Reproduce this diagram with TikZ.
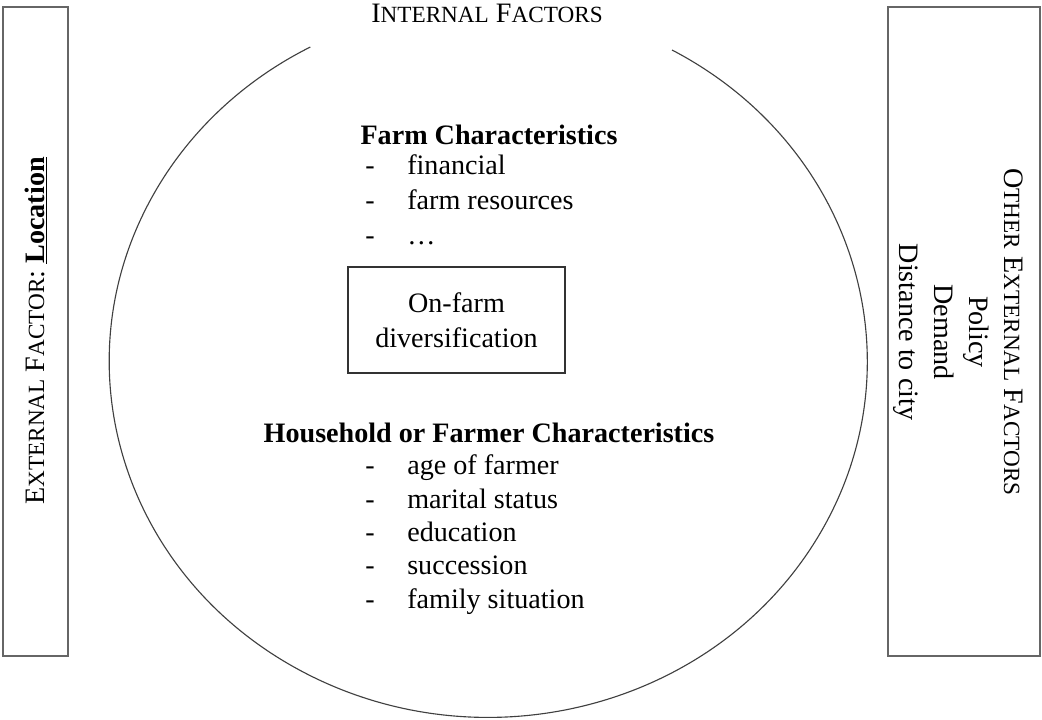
\documentclass[tikz,border=0pt]{standalone}
\usepackage{fontspec}
\setmainfont{Liberation Serif}

\newcommand{\lowcap}[1]{{\fontsize{16.5}{20}\selectfont #1}}

\tikzset{
    sidebox/.style={draw=black!60, line width=1.4pt},
    txt/.style={inner sep=0pt, font=\fontsize{20}{24.8}\selectfont},
    head/.style={txt, font=\fontsize{20}{24.8}\selectfont\bfseries},
    dashmark/.style={txt, anchor=base},
    listitem/.style={txt, anchor=base west},
}

\begin{document}
\begin{tikzpicture}[x=0.025cm, y=-0.025cm]
    \useasboundingbox (0,0) rectangle (1042,720);
    %
    \draw[sidebox] (3,7) rectangle (68,656);
    \node[txt, rotate=90] (location) at (36,331) {E\lowcap{XTERNAL} F\lowcap{ACTOR}: \textbf{\underline{Location}}};
    %
    \draw[sidebox] (888,7) rectangle (1040,656);
    \node[txt, rotate=-90, align=center] (others) at (958,332) {O\lowcap{THER} E\lowcap{XTERNAL} F\lowcap{ACTORS}\\Policy\\Demand\\Distance to city};
    %
    \node[txt, anchor=base] (internal) at (487,23) {I\lowcap{NTERNAL} F\lowcap{ACTORS}};
    \draw[black!75, line width=0.8pt] (672,50) arc[start angle=-61, end angle=242, x radius=379, y radius=356];
    %
    \node[head, anchor=base] (farmhead) at (489,145) {Farm Characteristics};
    \foreach \entry [count=\k] in {financial, farm resources, \dots} {
        \node[dashmark] (farmdash\k) at (370,140+35*\k) {-};
        \node[listitem] (farm\k) at (407,140+35*\k) {\entry};
    }
    %
    \node[txt, draw=black!80, line width=0.8pt, align=center, minimum width=5.425cm, minimum height=2.65cm] (divers) at (456.5,320) {On-farm\\diversification};
    %
    \node[head, anchor=base] (househead) at (489,443) {Household or Farmer Characteristics};
    \foreach \entry [count=\k] in {age of farmer, marital status, education, succession, family situation} {
        \node[dashmark] (housedash\k) at (370,441.7+33.3*\k) {-};
        \node[listitem] (house\k) at (407,441.7+33.3*\k) {\entry};
    }
\end{tikzpicture}
\end{document}
